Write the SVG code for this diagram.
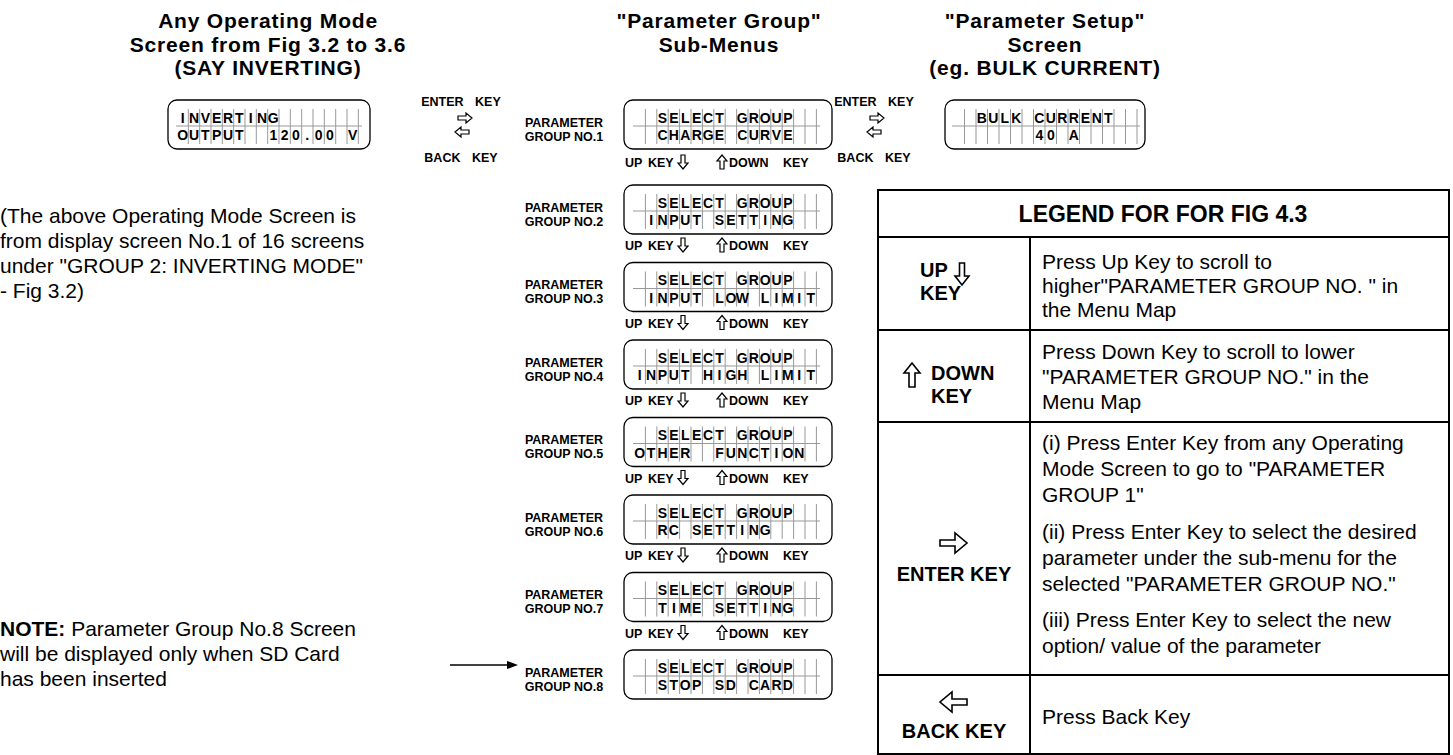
<svg xmlns="http://www.w3.org/2000/svg" width="1453" height="755" viewBox="0 0 1453 755">
<style>
.h{font-family:"Liberation Sans",Arial,sans-serif;font-weight:700;font-size:21px;letter-spacing:0.8px;text-anchor:middle;fill:#000}
.lab{font-family:"Liberation Sans",Arial,sans-serif;font-weight:700;font-size:12.5px;text-anchor:middle;fill:#000}
.key{font-family:"Liberation Sans",Arial,sans-serif;font-weight:700;font-size:12.5px;fill:#000}
.lcd{font-family:"Liberation Sans",Arial,sans-serif;font-weight:700;font-size:14px;text-anchor:middle;fill:#000}
.body{font-family:"Liberation Sans",Arial,sans-serif;font-size:21px;fill:#000}
.lk{font-family:"Liberation Sans",Arial,sans-serif;font-weight:700;font-size:20px;fill:#000}
.lh{font-family:"Liberation Sans",Arial,sans-serif;font-weight:700;font-size:23px;text-anchor:middle;fill:#000}
.box{fill:#fff;stroke:#000;stroke-width:1.3}
.grid{fill:none;stroke:#999;stroke-width:1}
.tbl{fill:none;stroke:#000;stroke-width:2}
.big{fill:#fff;stroke:#000;stroke-width:1.6}
</style>
<defs>
<path id="ad" fill="#fff" stroke="#000" stroke-width="1.2" d="M-2,0H2V8H5L0,14L-5,8H-2Z"/>
<path id="au" fill="#fff" stroke="#000" stroke-width="1.2" d="M-2,14H2V6H5L0,0L-5,6H-2Z"/>
<path id="ar" fill="#fff" stroke="#000" stroke-width="1.2" d="M0,-2V2H8V5L14,0L8,-5V-2Z"/>
<path id="al" fill="#fff" stroke="#000" stroke-width="1.2" d="M14,-2V2H6V5L0,0L6,-5V-2Z"/>
<rect id="pbox" fill="#fff" stroke="#000" stroke-width="1.3" x="624" y="0" width="208" height="49" rx="9"/>
<path id="pgrid" fill="none" stroke="#999" stroke-width="1" d="M633,26H820M645.4,9V44M656.8,9V44M668.2,9V44M679.6,9V44M691,9V44M702.4,9V44M713.8,9V44M725.2,9V44M736.6,9V44M748,9V44M759.4,9V44M770.8,9V44M782.2,9V44M793.6,9V44M805,9V44M816.4,9V44"/>
<marker id="ah" markerWidth="11" markerHeight="8" refX="0" refY="4" orient="auto" markerUnits="userSpaceOnUse"><path d="M0,0L11,4L0,8Z" fill="#000"/></marker>
</defs>

<g id="titles">
<text class="h" x="268" y="28">Any Operating Mode</text>
<text class="h" x="268" y="51.5">Screen from Fig 3.2 to 3.6</text>
<text class="h" x="268" y="75">(SAY INVERTING)</text>
<text class="h" x="719" y="28">"Parameter Group"</text>
<text class="h" x="719" y="51.5">Sub-Menus</text>
<text class="h" x="1045" y="28">"Parameter Setup"</text>
<text class="h" x="1045" y="51.5">Screen</text>
<text class="h" x="1045" y="75">(eg. BULK CURRENT)</text>
</g>

<g id="operating-screen">
<rect class="box" x="168" y="100" width="202" height="49" rx="9"/>
<path class="grid" d="M176,126H362M188.3,109V144M199.7,109V144M211,109V144M222.3,109V144M233.7,109V144M245,109V144M256.3,109V144M267.7,109V144M279,109V144M290.3,109V144M301.7,109V144M313,109V144M324.3,109V144M335.7,109V144M347,109V144M358.3,109V144"/>
<text class="lcd" x="182.7 194 205.4 216.7 228 239.4 250.7 262 273.3" y="122.5">INVERTING</text>
<text class="lcd" x="182.7 194 205.4 216.7 228 239.4 250.7 273.3 284.7 296 307.3 318.7 330 341.3 352.7" y="140">OUTPUT 120.00 V</text>
</g>

<g id="nav-enter-back-1">
<text class="key" x="461" y="106" text-anchor="middle" word-spacing="8">ENTER KEY</text>
<use href="#ar" x="458" y="118"/>
<use href="#al" x="455" y="132"/>
<text class="key" x="461" y="162" text-anchor="middle" word-spacing="8">BACK KEY</text>
</g>

<g id="nav-enter-back-2">
<text class="key" x="874" y="106" text-anchor="middle" word-spacing="8">ENTER KEY</text>
<use href="#ar" x="870" y="118"/>
<use href="#al" x="867" y="132"/>
<text class="key" x="874" y="162" text-anchor="middle" word-spacing="8">BACK KEY</text>
</g>

<g id="setup-screen">
<rect class="box" x="945" y="100" width="200" height="49" rx="9"/>
<path class="grid" d="M952,126H1140M964.5,109V144M976,109V144M987.5,109V144M999,109V144M1010.5,109V144M1022,109V144M1033.5,109V144M1045,109V144M1056.5,109V144M1068,109V144M1079.5,109V144M1091,109V144M1102.5,109V144M1114,109V144M1125.5,109V144M1137,109V144"/>
<text class="lcd" x="981.8 993.3 1004.8 1016.3 1027.8 1039.3 1050.8 1062.3 1073.8 1085.3 1096.8 1108.3" y="122.5">BULK CURRENT</text>
<text class="lcd" x="1039.3 1050.8 1062.3 1073.8" y="140">40 A</text>
</g>

<g id="group-1">
<text class="lab" x="564" y="126.5">PARAMETER</text>
<text class="lab" x="564" y="140.5">GROUP NO.1</text>
<use href="#pbox" y="100"/><use href="#pgrid" y="100"/>
<text class="lcd" x="662.5 673.9 685.3 696.7 708.1 719.5 730.9 742.3 753.7 765.1 776.5 787.9" y="122.5">SELECT GROUP</text>
<text class="lcd" x="662.5 673.9 685.3 696.7 708.1 719.5 730.9 742.3 753.7 765.1 776.5 787.9" y="140">CHARGE CURVE</text>
</g>

<g id="group-2">
<text class="lab" x="564" y="211.5">PARAMETER</text>
<text class="lab" x="564" y="225.5">GROUP NO.2</text>
<use href="#pbox" y="185"/><use href="#pgrid" y="185"/>
<text class="lcd" x="662.5 673.9 685.3 696.7 708.1 719.5 730.9 742.3 753.7 765.1 776.5 787.9" y="207.5">SELECT GROUP</text>
<text class="lcd" x="651.1 662.5 673.9 685.3 696.7 708.1 719.5 730.9 742.3 753.7 765.1 776.5 787.9" y="225">INPUT SETTING</text>
</g>

<g id="group-3">
<text class="lab" x="564" y="289">PARAMETER</text>
<text class="lab" x="564" y="303">GROUP NO.3</text>
<use href="#pbox" y="262.5"/><use href="#pgrid" y="262.5"/>
<text class="lcd" x="662.5 673.9 685.3 696.7 708.1 719.5 730.9 742.3 753.7 765.1 776.5 787.9" y="285">SELECT GROUP</text>
<text class="lcd" x="651.1 662.5 673.9 685.3 696.7 708.1 719.5 730.9 742.3 753.7 765.1 776.5 787.9 799.3 810.7" y="302.5">INPUT LOW LIMIT</text>
</g>

<g id="group-4">
<text class="lab" x="564" y="366.5">PARAMETER</text>
<text class="lab" x="564" y="380.5">GROUP NO.4</text>
<use href="#pbox" y="340"/><use href="#pgrid" y="340"/>
<text class="lcd" x="662.5 673.9 685.3 696.7 708.1 719.5 730.9 742.3 753.7 765.1 776.5 787.9" y="362.5">SELECT GROUP</text>
<text class="lcd" x="639.7 651.1 662.5 673.9 685.3 696.7 708.1 719.5 730.9 742.3 753.7 765.1 776.5 787.9 799.3 810.7" y="380">INPUT HIGH LIMIT</text>
</g>

<g id="group-5">
<text class="lab" x="564" y="444">PARAMETER</text>
<text class="lab" x="564" y="458">GROUP NO.5</text>
<use href="#pbox" y="417.5"/><use href="#pgrid" y="417.5"/>
<text class="lcd" x="662.5 673.9 685.3 696.7 708.1 719.5 730.9 742.3 753.7 765.1 776.5 787.9" y="440">SELECT GROUP</text>
<text class="lcd" x="639.7 651.1 662.5 673.9 685.3 696.7 719.5 730.9 742.3 753.7 765.1 776.5 787.9 799.3" y="457.5">OTHER FUNCTION</text>
</g>

<g id="group-6">
<text class="lab" x="564" y="521.5">PARAMETER</text>
<text class="lab" x="564" y="535.5">GROUP NO.6</text>
<use href="#pbox" y="495"/><use href="#pgrid" y="495"/>
<text class="lcd" x="662.5 673.9 685.3 696.7 708.1 719.5 730.9 742.3 753.7 765.1 776.5 787.9" y="517.5">SELECT GROUP</text>
<text class="lcd" x="662.5 673.9 685.3 696.7 708.1 719.5 730.9 742.3 753.7 765.1" y="535">RC SETTING</text>
</g>

<g id="group-7">
<text class="lab" x="564" y="599">PARAMETER</text>
<text class="lab" x="564" y="613">GROUP NO.7</text>
<use href="#pbox" y="572.5"/><use href="#pgrid" y="572.5"/>
<text class="lcd" x="662.5 673.9 685.3 696.7 708.1 719.5 730.9 742.3 753.7 765.1 776.5 787.9" y="595">SELECT GROUP</text>
<text class="lcd" x="662.5 673.9 685.3 696.7 708.1 719.5 730.9 742.3 753.7 765.1 776.5 787.9" y="612.5">TIME SETTING</text>
</g>

<g id="group-8">
<text class="lab" x="564" y="676.5">PARAMETER</text>
<text class="lab" x="564" y="690.5">GROUP NO.8</text>
<use href="#pbox" y="650"/><use href="#pgrid" y="650"/>
<text class="lcd" x="662.5 673.9 685.3 696.7 708.1 719.5 730.9 742.3 753.7 765.1 776.5 787.9" y="672.5">SELECT GROUP</text>
<text class="lcd" x="662.5 673.9 685.3 696.7 708.1 719.5 730.9 742.3 753.7 765.1 776.5 787.9" y="690">STOP SD CARD</text>
</g>

<g id="up-down-keys">
<text class="key" x="625" y="167">UP</text><text class="key" x="648" y="167">KEY</text><use href="#ad" x="683" y="155"/><use href="#au" x="722" y="155"/><text class="key" x="729" y="167">DOWN</text><text class="key" x="783" y="167">KEY</text>
<text class="key" x="625" y="250">UP</text><text class="key" x="648" y="250">KEY</text><use href="#ad" x="683" y="238"/><use href="#au" x="722" y="238"/><text class="key" x="729" y="250">DOWN</text><text class="key" x="783" y="250">KEY</text>
<text class="key" x="625" y="327.5">UP</text><text class="key" x="648" y="327.5">KEY</text><use href="#ad" x="683" y="315.5"/><use href="#au" x="722" y="315.5"/><text class="key" x="729" y="327.5">DOWN</text><text class="key" x="783" y="327.5">KEY</text>
<text class="key" x="625" y="405">UP</text><text class="key" x="648" y="405">KEY</text><use href="#ad" x="683" y="393"/><use href="#au" x="722" y="393"/><text class="key" x="729" y="405">DOWN</text><text class="key" x="783" y="405">KEY</text>
<text class="key" x="625" y="482.5">UP</text><text class="key" x="648" y="482.5">KEY</text><use href="#ad" x="683" y="470.5"/><use href="#au" x="722" y="470.5"/><text class="key" x="729" y="482.5">DOWN</text><text class="key" x="783" y="482.5">KEY</text>
<text class="key" x="625" y="560">UP</text><text class="key" x="648" y="560">KEY</text><use href="#ad" x="683" y="548"/><use href="#au" x="722" y="548"/><text class="key" x="729" y="560">DOWN</text><text class="key" x="783" y="560">KEY</text>
<text class="key" x="625" y="637.5">UP</text><text class="key" x="648" y="637.5">KEY</text><use href="#ad" x="683" y="625.5"/><use href="#au" x="722" y="625.5"/><text class="key" x="729" y="637.5">DOWN</text><text class="key" x="783" y="637.5">KEY</text>
</g>

<g id="note-left">
<text class="body" x="0" y="223">(The above Operating Mode Screen is</text>
<text class="body" x="0" y="248">from display screen No.1 of 16 screens</text>
<text class="body" x="0" y="273">under "GROUP 2: INVERTING MODE"</text>
<text class="body" x="0" y="298">- Fig 3.2)</text>
<text class="body" x="0" y="636"><tspan font-weight="700">NOTE:</tspan> Parameter Group No.8 Screen</text>
<text class="body" x="0" y="661">will be displayed only when SD Card</text>
<text class="body" x="0" y="686">has been inserted</text>
</g>

<g id="connectors">
<line x1="450" y1="665" x2="507" y2="665" stroke="#000" stroke-width="1.5" marker-end="url(#ah)"/>
</g>

<g id="legend">
<rect class="tbl" x="878" y="190" width="571" height="564"/>
<path class="tbl" d="M878,237H1449M878,330H1449M878,422H1449M878,675H1449M1030,237V754"/>
<text class="lh" x="1163" y="222">LEGEND FOR FOR FIG 4.3</text>
<text class="lk" x="920" y="277">UP</text>
<text class="lk" x="920" y="300">KEY</text>
<path class="big" d="M959.5,263H964.5V276H969L962,285L955,276H959.5Z"/>
<path class="big" d="M909,387H915V373H920L912,363L904,373H909Z"/>
<text class="lk" x="931" y="380">DOWN</text>
<text class="lk" x="931" y="403">KEY</text>
<path class="big" d="M940,540V546H955V553L967,543L955,533V540Z"/>
<text class="lk" x="954" y="581" text-anchor="middle">ENTER KEY</text>
<path class="big" d="M967,699V705H952V712L940,702L952,692V699Z"/>
<text class="lk" x="954" y="738" text-anchor="middle">BACK KEY</text>
<text class="body" x="1042" y="269">Press Up Key to scroll to</text>
<text class="body" x="1042" y="293">higher"PARAMETER GROUP NO. " in</text>
<text class="body" x="1042" y="317">the Menu Map</text>
<text class="body" x="1042" y="359">Press Down Key to scroll to lower</text>
<text class="body" x="1042" y="384">"PARAMETER GROUP NO." in the</text>
<text class="body" x="1042" y="409">Menu Map</text>
<text class="body" x="1042" y="450">(i) Press Enter Key from any Operating</text>
<text class="body" x="1042" y="476">Mode Screen to go to "PARAMETER</text>
<text class="body" x="1042" y="502">GROUP 1"</text>
<text class="body" x="1042" y="539">(ii) Press Enter Key to select the desired</text>
<text class="body" x="1042" y="565">parameter under the sub-menu for the</text>
<text class="body" x="1042" y="591">selected "PARAMETER GROUP NO."</text>
<text class="body" x="1042" y="627">(iii) Press Enter Key to select the new</text>
<text class="body" x="1042" y="653">option/ value of the parameter</text>
<text class="body" x="1042" y="724">Press Back Key</text>
</g>
</svg>
